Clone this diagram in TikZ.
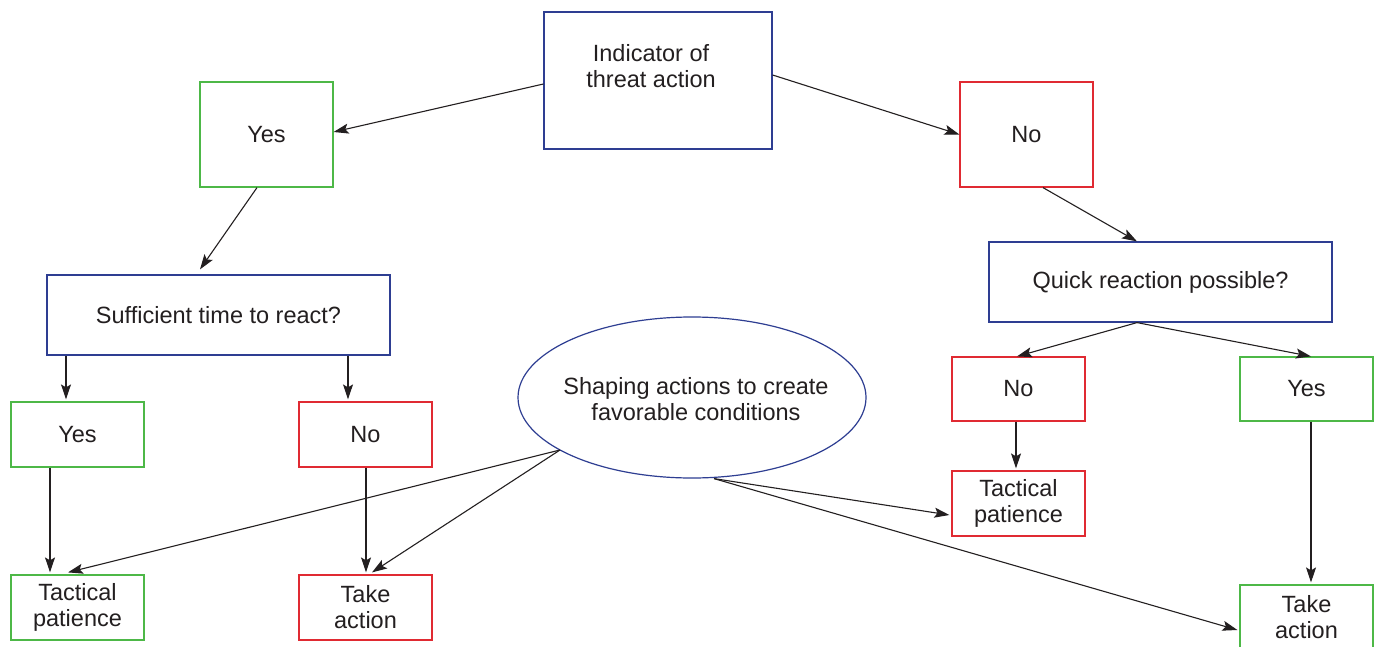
\documentclass[tikz,border=0pt]{standalone}
\usepackage{fontspec}
\setmainfont{Liberation Sans}
\usetikzlibrary{arrows.meta,shapes.geometric}
\definecolor{bblue}{HTML}{2E3E92}
\definecolor{bgreen}{HTML}{4DB847}
\definecolor{bred}{HTML}{E02A32}
\definecolor{txt}{HTML}{231F20}
\begin{document}
\begin{tikzpicture}[x=1pt,y=-1pt,
  base/.style={line width=1.2pt, inner sep=0pt, align=center, text=txt,
    font=\fontsize{23.5}{26}\selectfont},
  box/.style={base, draw, rectangle, minimum width=133pt, minimum height=65pt},
  gbox/.style={box, draw=bgreen},
  rbox/.style={box, draw=bred},
  bbox/.style={box, draw=bblue},
  lbl/.style={base, draw=none},
  arr/.style={-{Stealth[length=15pt,width=10pt,inset=3pt]}, line width=1.1pt, draw=txt}]
\useasboundingbox (0,0) rectangle (1380,647);
\fill[white] (0,0) rectangle (1380,647);
% top
\node[bbox, minimum width=228pt, minimum height=137pt] (ind) at (658,80.5) {};
\node[lbl] (indt) at (651,66) {Indicator of\\threat action};
\node[gbox, minimum height=105pt] (yesA) at (266.5,134.5) {Yes};
\node[rbox, minimum height=105pt] (noA) at (1026.5,134.5) {No};
% second level
\node[bbox, minimum width=343pt, minimum height=80pt] (quick) at (1160.5,282) {Quick reaction possible?};
\node[bbox, minimum width=343pt, minimum height=80pt] (suf) at (218.5,315) {Sufficient time to react?};
% third
\node[gbox] (yesB) at (77.5,434.5) {Yes};
\node[rbox] (noB) at (365.5,434.5) {No};
\node[base, draw=bblue, ellipse, minimum width=348pt, minimum height=161pt] (ell) at (692,397.5) {};
\node[lbl] (ellt) at (696,399) {Shaping actions to create\\favorable conditions};
\node[rbox, minimum height=64pt] (noC) at (1018.5,389) {No};
\node[gbox, minimum height=64pt] (yesC) at (1306.5,389) {Yes};
\node[rbox] (tacC) at (1018.5,503.5) {Tactical\\patience};
% bottom
\node[gbox] (tacD) at (77.5,607.5) {Tactical\\patience};
\node[rbox] (takeD) at (365.5,607.5) {Take\\action};
\node[gbox] (takeE) at (1306.5,617.5) {Take\\action};
\coordinate (ellA) at ([xshift=-132pt,yshift=-52.5pt]ell.center);
\coordinate (ellB) at ([xshift=22pt]ell.south);
% arrows
\draw[arr] ([yshift=-3.5pt]ind.west) -- ([yshift=2.5pt]yesA.east);
\draw[arr] ([yshift=5.5pt]ind.east) -- (noA.west);
\draw[arr] ([xshift=-9.5pt]yesA.south) -- ([xshift=-18.5pt,yshift=5pt]suf.north);
\draw[arr] ([xshift=16.5pt]noA.south) -- ([xshift=-23.5pt]quick.north);
\draw[arr] ([xshift=-152.5pt]suf.south) -- ([xshift=-11.5pt,yshift=2pt]yesB.north);
\draw[arr] ([xshift=129.5pt]suf.south) -- ([xshift=-17.5pt,yshift=2pt]noB.north);
\draw[arr] ([xshift=-27.5pt]yesB.south) -- ([xshift=-27.5pt,yshift=2pt]tacD.north);
\draw[arr] ([xshift=0.5pt]noB.south) -- ([xshift=0.5pt,yshift=2pt]takeD.north);
\draw[arr] ([xshift=-23.5pt]quick.south) -- ([xshift=-1.5pt]noC.north);
\draw[arr] ([xshift=-23.5pt]quick.south) -- ([xshift=4.5pt]yesC.north);
\draw[arr] ([xshift=-2.5pt]noC.south) -- ([xshift=-2.5pt,yshift=2pt]tacC.north);
\draw[arr] ([xshift=4.5pt]yesC.south) -- ([xshift=4.5pt,yshift=2pt]takeE.north);
\draw[arr] (ellA) -- ([xshift=-9.5pt,yshift=2pt]tacD.north);
\draw[arr] (ellA) -- ([xshift=6.5pt,yshift=2pt]takeD.north);
\draw[arr] (ellB) -- ([xshift=-2pt,yshift=-11.5pt]tacC.west);
\draw[arr] (ellB) -- ([xshift=-2pt,yshift=-12.5pt]takeE.west);
\end{tikzpicture}
\end{document}
